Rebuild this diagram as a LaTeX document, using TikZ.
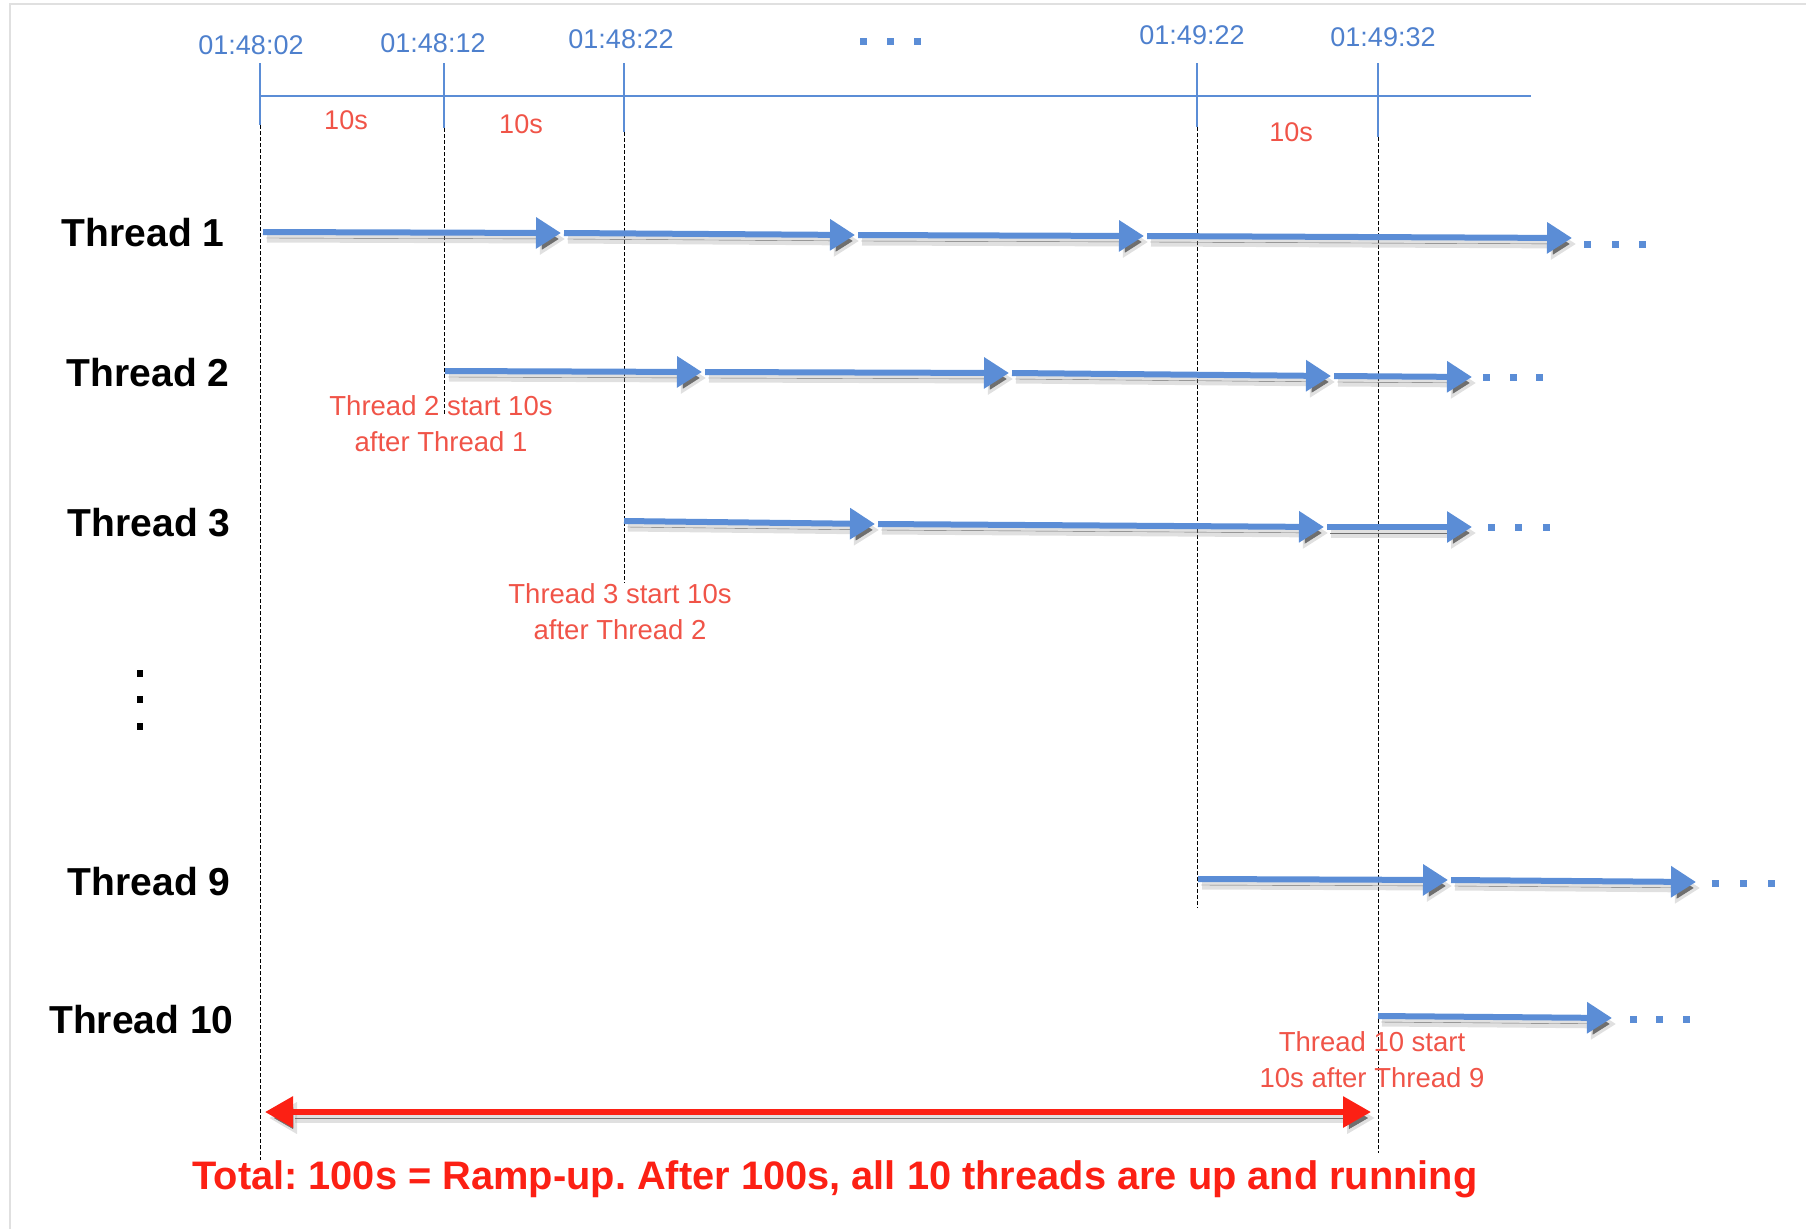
\documentclass[tikz,border=0pt]{standalone}
\usepackage{fontspec}
\setmainfont{Liberation Sans}
\usetikzlibrary{arrows.meta}

\definecolor{lineblue}{RGB}{91,141,214}
\definecolor{timeblue}{RGB}{78,128,205}
\definecolor{notered}{RGB}{240,84,72}
\definecolor{totalred}{RGB}{252,32,20}

\tikzset{
	seg/.style={line width=6pt, draw=lineblue, -{Triangle[length=25pt,width=30pt]},
		preaction={draw=black!40, opacity=.3, line width=9pt, transform canvas={xshift=4pt,yshift=-6pt}},
		preaction={draw=black!60, opacity=.9, transform canvas={xshift=3pt,yshift=-6pt}}},
	ramp/.style={line width=6pt, draw=totalred, {Triangle[length=28pt,width=30pt]}-{Triangle[length=28pt,width=30pt]},
		preaction={draw=black!40, opacity=.3, line width=9pt, transform canvas={xshift=4pt,yshift=-6pt}},
		preaction={draw=black!60, opacity=.9, transform canvas={xshift=3pt,yshift=-6pt}}},
	thread/.style={anchor=east, font=\fontsize{39}{39}\selectfont\bfseries},
	stamp/.style={text=timeblue, font=\fontsize{27}{27}\selectfont},
	gap/.style={text=notered, font=\fontsize{27}{27}\selectfont},
	note/.style={text=notered, align=center, font=\fontsize{27.5}{36}\selectfont},
	tick/.style={draw=lineblue, line width=1.2pt},
	guide/.style={draw=black, line width=1pt, dash pattern=on 4pt off 2pt},
}

\begin{document}
\frenchspacing
\begin{tikzpicture}[x=1pt,y=-1pt]
	\useasboundingbox (0,0) rectangle (1806,1229);
	\draw[black!12, line width=2pt] (10,1229) -- (10,4) -- (1806,4);

	% time axis
	\node[stamp] (s0) at (251,45) {01:48:02};
	\node[stamp] (s1) at (433,43) {01:48:12};
	\node[stamp] (s2) at (621,39) {01:48:22};
	\node[stamp] (s4) at (1192,35) {01:49:22};
	\node[stamp] (s5) at (1383,37) {01:49:32};
	\foreach \x in {863,890,917}
		\fill[lineblue] (\x-3.5,37.5) rectangle (\x+3.5,44.5);
	\draw[tick] (260,96) -- (1531,96);
	\foreach \x/\b/\e in {260/125/1160, 444/128/415, 624/132/583, 1197/127/908, 1378/137/1153} {
		\draw[tick] (\x,63) -- (\x,\b);
		\draw[guide] (\x,\b) -- (\x,\e);
	}
	\node[gap] (d0) at (346,120) {10s};
	\node[gap] (d1) at (521,124) {10s};
	\node[gap] (d5) at (1291,132) {10s};

	% threads
	\node[thread] (th1) at (228,233) {Thread 1};
	\node[thread] (th2) at (233,373) {Thread 2};
	\node[thread] (th3) at (234,523) {Thread 3};
	\node[thread] (th9) at (234,882) {Thread 9};
	\node[thread] (th10) at (237,1020) {Thread 10};
	\foreach \y in {673,699,726}
		\fill[black] (137,\y-3.5) rectangle (143,\y+3.5);

	\coordinate (r1a) at (260,232);
	\coordinate (r1b) at (561,233);
	\coordinate (r1c) at (855,235);
	\coordinate (r1d) at (1144,236);
	\coordinate (r1e) at (1572,238);
	\coordinate (r2a) at (442,371);
	\coordinate (r2b) at (702,372);
	\coordinate (r2c) at (1009,373);
	\coordinate (r2d) at (1331,376);
	\coordinate (r2e) at (1472,377);
	\coordinate (r3a) at (621,521);
	\coordinate (r3b) at (875,524);
	\coordinate (r3c) at (1324,527);
	\coordinate (r3d) at (1472,527);
	\coordinate (r9a) at (1195,879);
	\coordinate (r9b) at (1448,880);
	\coordinate (r9c) at (1696,882);
	\coordinate (r10a) at (1375,1016);
	\coordinate (r10b) at (1612,1018);
	\foreach \p/\q in {r1a/r1b, r1b/r1c, r1c/r1d, r1d/r1e, r2a/r2b, r2b/r2c, r2c/r2d, r2d/r2e,
		r3a/r3b, r3b/r3c, r3c/r3d, r9a/r9b, r9b/r9c, r10a/r10b}
		\draw[seg] ([xshift=3pt]\p) -- (\q);
	\foreach \x/\y in {1587/244, 1615/244, 1642/244, 1486/377, 1513/377, 1539/377,
		1491/527, 1518/527, 1546/527, 1715/883, 1743/883, 1771/883, 1633/1019, 1659/1019, 1686/1019}
		\fill[lineblue] (\x-3.5,\y-3.5) rectangle (\x+3.5,\y+3.5);

	\node[note] (n2) at (441,424) {Thread 2 start 10s\\after Thread 1};
	\node[note] (n3) at (620,612) {Thread 3 start 10s\\after Thread 2};
	\node[note] (n10) at (1372,1060) {Thread 10 start\\10s after Thread 9};

	% ramp-up
	\coordinate (ru0) at (265,1112);
	\coordinate (ru1) at (1371,1112);
	\draw[ramp] (ru0) -- (ru1);
	\node[text=totalred, font=\fontsize{39.8}{39.8}\selectfont\bfseries] (total) at (835,1179)
		{Total: 100s = Ramp-up. After 100s, all 10 threads are up and running};
\end{tikzpicture}
\end{document}
